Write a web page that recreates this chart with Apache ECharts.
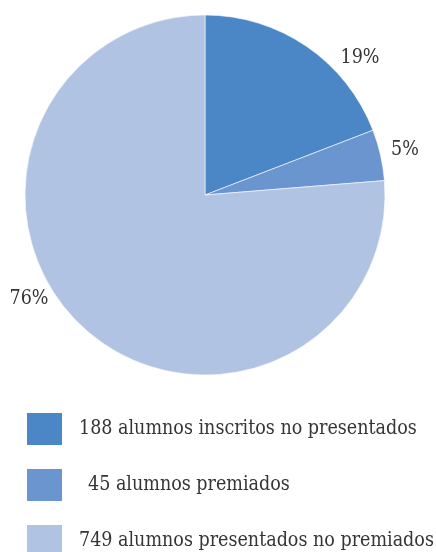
<!DOCTYPE html>
<html>
<head>
<meta charset="utf-8">
<script src="https://cdn.jsdelivr.net/npm/echarts@6/dist/echarts.min.js"></script>
<style>
  html, body { margin: 0; padding: 0; background: #ffffff; }
  #chart { width: 436px; height: 552px; }
</style>
</head>
<body>
<div id="chart"></div>
<script>
// Student counts by outcome
const categories = [
  '188 alumnos inscritos no presentados',
  '45 alumnos premiados',
  '749 alumnos presentados no premiados'
];
const values = [188, 45, 749];
const colors = ['#4b86c7', '#6b95cf', '#b0c3e3'];

// Where each percentage label sits, per slice
const labelSpots = [
  { x: 360, y: 58 },
  { x: 405, y: 150 },
  { x: 29, y: 299 }
];

const FONT = '"DejaVu Serif Condensed", "DejaVu Serif", serif';
const TEXT = '#353535';

const chart = echarts.init(document.getElementById('chart'));
chart.setOption({
  animation: false,
  backgroundColor: '#ffffff',
  color: colors,
  legend: {
    orient: 'vertical',
    left: 25,
    top: 411,
    height: 160,
    padding: 0,
    itemWidth: 37,
    itemHeight: 34,
    itemGap: 20,
    icon: 'rect',
    selectedMode: false,
    data: categories,
    formatter: function (name) {
      return name === categories[1] ? '{pad|' + name + '}' : name;
    },
    textStyle: {
      fontFamily: FONT,
      fontSize: 19.5,
      color: TEXT,
      padding: [0, 0, 0, 11],
      rich: {
        pad: { fontFamily: FONT, fontSize: 19.5, color: TEXT, padding: [0, 0, 0, 9] }
      }
    }
  },
  series: [{
    type: 'pie',
    center: [205, 195],
    radius: 180,
    startAngle: 90,
    clockwise: true,
    avoidLabelOverlap: false,
    data: categories.map((name, i) => ({ name: name, value: values[i] })),
    itemStyle: { borderColor: '#ffffff', borderWidth: 0.6 },
    emphasis: { disabled: true },
    label: {
      show: true,
      position: 'outside',
      alignTo: 'none',
      overflow: 'none',
      formatter: function (p) { return Math.round(p.percent) + '%'; },
      fontFamily: FONT,
      fontSize: 19.5,
      color: TEXT
    },
    labelLine: { show: false },
    labelLayout: function (params) {
      const s = labelSpots[params.dataIndex];
      return { x: s.x, y: s.y, align: 'center', verticalAlign: 'middle', hideOverlap: false };
    }
  }]
});
</script>
</body>
</html>
